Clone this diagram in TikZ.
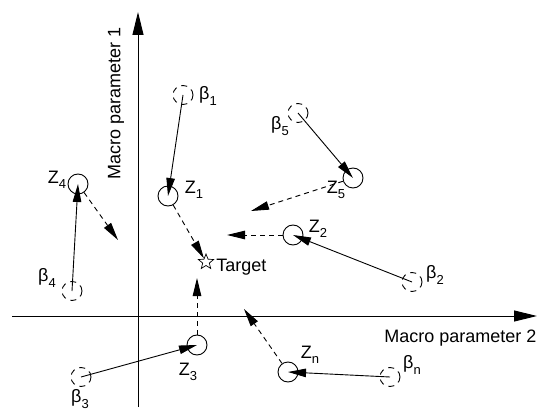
\documentclass[tikz,border=0pt]{standalone}
\usepackage{fontspec}
\setmainfont{Liberation Sans}
\usetikzlibrary{arrows.meta, positioning, shapes.geometric}
\newcommand{\subidx}[1]{\raisebox{-0.3em}{\fontsize{13}{13}\selectfont #1}}

\begin{document}
\begin{tikzpicture}[x=1pt, y=-1pt, line width=0.9pt,
    font=\fontsize{18}{18}\selectfont,
    axis/.style={-{Triangle[length=23pt, width=11pt]}, line width=1pt},
    solidarrow/.style={-{Triangle[length=18pt, width=8.5pt]}},
    dasharrow/.style={-{Triangle[length=18pt, width=8.5pt]}, dash pattern=on 5pt off 4pt},
    zpoint/.style={draw, circle, minimum size=20pt, inner sep=0pt},
    bpoint/.style={draw, ellipse, minimum width=20pt, minimum height=19pt,
                   inner sep=0pt, dash pattern=on 6pt off 5pt},
    lbl/.style={inner sep=0pt}]
  \useasboundingbox (0,0) rectangle (537,411);
  % axes
  \coordinate (xstart) at (12,316);
  \coordinate (xend) at (537,316);
  \coordinate (ystart) at (138,407);
  \coordinate (yend) at (138,12);
  \draw[axis] (xstart) -- (xend);
  \draw[axis] (ystart) -- (yend);
  \node[lbl, rotate=90] (ylabel) at (116,103) {Macro parameter 1};
  \node[lbl, anchor=west] (xlabel) at (384,338) {Macro parameter 2};
  % target
  \node[draw, star, star points=5, star point ratio=2.3, minimum size=16pt,
        inner sep=0pt, line width=0.7pt] (target) at (206,262) {};
  \node[lbl, anchor=west] (targetlabel) at (216,267) {Target};
  % current points
  \node[zpoint] (z1) at (168,196) {};
  \node[zpoint] (z2) at (293,235) {};
  \node[zpoint] (z3) at (197,345) {};
  \node[zpoint] (z4) at (78,184) {};
  \node[zpoint] (z5) at (353,178) {};
  \node[zpoint] (zn) at (288,372) {};
  % previous points
  \node[bpoint] (b1) at (183,95) {};
  \node[bpoint] (b2) at (412,282) {};
  \node[bpoint] (b3) at (81,377) {};
  \node[bpoint] (b4) at (72,291) {};
  \node[bpoint] (b5) at (298,113) {};
  \node[bpoint] (bn) at (390,377) {};
  % labels
  \node[lbl] (lz1) at (194,190) {Z\subidx{1}};
  \node[lbl] (lz2) at (318,229) {Z\subidx{2}};
  \node[lbl] (lz3) at (188,372) {Z\subidx{3}};
  \node[lbl] (lz4) at (57,180) {Z\subidx{4}};
  \node[lbl] (lz5) at (336,190) {Z\subidx{5}};
  \node[lbl] (lzn) at (310,355) {Z\subidx{n}};
  \node[lbl] (lb1) at (208,96) {β\subidx{1}};
  \node[lbl] (lb2) at (435,275) {β\subidx{2}};
  \node[lbl] (lb3) at (80,399) {β\subidx{3}};
  \node[lbl] (lb4) at (47,278) {β\subidx{4}};
  \node[lbl] (lb5) at (280,126) {β\subidx{5}};
  \node[lbl] (lbn) at (412,365) {β\subidx{n}};
  % moves from previous to current points
  \draw[solidarrow] (b1.center) -- (z1.center);
  \draw[solidarrow] (b2.center) -- (z2.center);
  \draw[solidarrow] (b3.center) -- (z3.center);
  \draw[solidarrow] (b4.center) -- (z4.center);
  \draw[solidarrow] (b5.center) -- (z5.center);
  \draw[solidarrow] (bn.center) -- (zn.center);
  % next steps toward the target
  \coordinate (s2) at (227,235);
  \coordinate (s3) at (197,278);
  \coordinate (s4) at (118,240);
  \coordinate (s5) at (251,211);
  \coordinate (sn) at (244,309);
  \draw[dasharrow] (z1) -- (target);
  \draw[dasharrow] (z2) -- (s2);
  \draw[dasharrow] (z3) -- (s3);
  \draw[dasharrow] (z4) -- (s4);
  \draw[dasharrow] (z5) -- (s5);
  \draw[dasharrow] (zn) -- (sn);
\end{tikzpicture}
\end{document}
